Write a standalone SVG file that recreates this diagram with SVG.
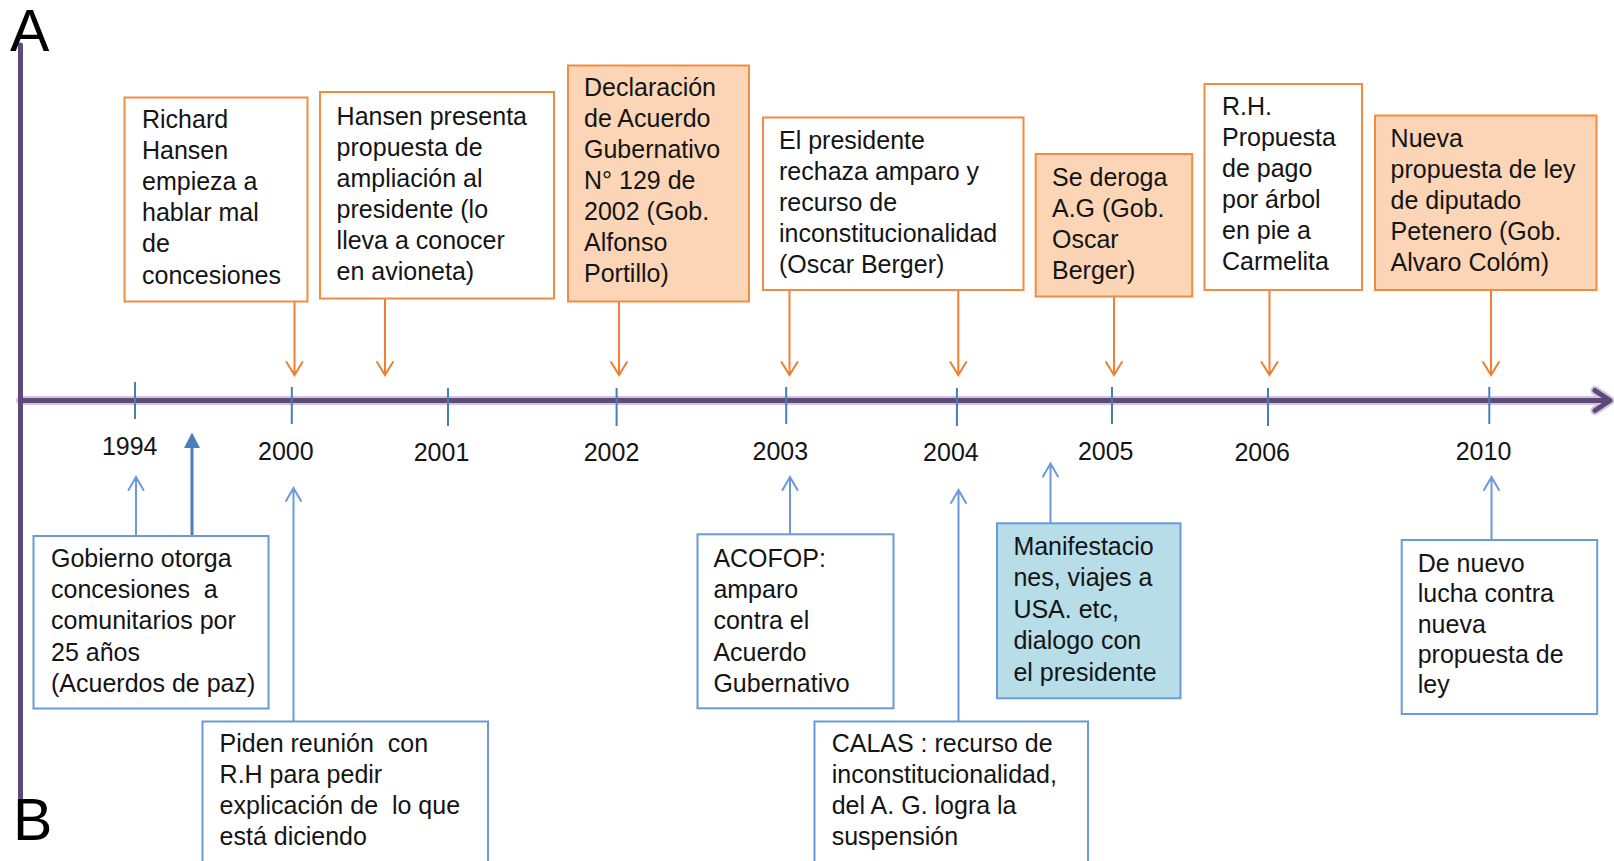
<svg xmlns="http://www.w3.org/2000/svg" width="1614" height="861" viewBox="0 0 1614 861">
<defs>
<style>
text{font-family:"Liberation Sans",Arial,sans-serif;font-size:25px;fill:#141414;white-space:pre}
.big{font-size:59px;fill:#000}
.yr{text-anchor:middle}
.ob{fill:#fff;stroke:#f28c3e;stroke-width:2}
.of{fill:#fbd5b5;stroke:#f28c3e;stroke-width:2}
.bb{fill:#fff;stroke:#6a9ada;stroke-width:2}
.bf{fill:#b7dde8;stroke:#6a9ada;stroke-width:2}
.oa{stroke:#ee7f33;stroke-width:2;fill:none;stroke-linecap:round}
.ba{stroke:#6a9ada;stroke-width:2;fill:none;stroke-linecap:round}
.tk{stroke:#4a7ebb;stroke-width:2}
.ax{stroke:#5f497a;stroke-width:5;fill:none;stroke-linecap:round;stroke-linejoin:round}
.axh{stroke:#cfc6dc;stroke-width:9;fill:none;stroke-linecap:round;stroke-linejoin:round}
</style>
</defs>

<g id="axes">
<path class="axh" d="M20.5,400.5 H1609 M1595,390.5 L1610,400.5 L1595,410.5"/>
<path class="ax" d="M20.5,45 V798 M20.5,400.5 H1609 M1595,390.5 L1610,400.5 L1595,410.5"/>
<text class="big" x="10" y="51">A</text>
<text class="big" x="13" y="840">B</text>
</g>

<g id="ticks">
<path class="tk" d="M135,382V419 M291.8,387V424 M448,388V426 M616.6,388V426 M786.2,387V424 M956.9,388V426 M1112,387V424 M1268,388V426 M1489.3,387V424"/>
<text class="yr" x="129.7" y="454.5">1994</text>
<text class="yr" x="285.8" y="459.5">2000</text>
<text class="yr" x="441.5" y="460.5">2001</text>
<text class="yr" x="611.5" y="460.5">2002</text>
<text class="yr" x="780.3" y="459.5">2003</text>
<text class="yr" x="950.9" y="460.5">2004</text>
<text class="yr" x="1105.7" y="459.5">2005</text>
<text class="yr" x="1262.2" y="460.5">2006</text>
<text class="yr" x="1483.5" y="459.5">2010</text>
</g>

<g id="connectors">
<path class="oa" d="M294.5,302V375 M286.5,362L294.5,375L302.5,362"/>
<path class="oa" d="M385,298.5V375 M377,362L385,375L393,362"/>
<path class="oa" d="M619,301.5V375 M611,362L619,375L627,362"/>
<path class="oa" d="M789.5,290V375 M781.5,362L789.5,375L797.5,362"/>
<path class="oa" d="M958.3,290V375 M950.3,362L958.3,375L966.3,362"/>
<path class="oa" d="M1114,296V375 M1106,362L1114,375L1122,362"/>
<path class="oa" d="M1269.5,290V375 M1261.5,362L1269.5,375L1277.5,362"/>
<path class="oa" d="M1491,290V375 M1483,362L1491,375L1499,362"/>
<path class="ba" d="M136,536V477 M128.5,490L136,477L143.5,490"/>
<path d="M192,536V446" stroke="#4a7ebb" stroke-width="3" fill="none"/>
<path d="M184,448L192,432.5L200,448Z" fill="#4a7ebb"/>
<path class="ba" d="M293.5,721V488 M286,501L293.5,488L301,501"/>
<path class="ba" d="M790,534V477 M782.5,490L790,477L797.5,490"/>
<path class="ba" d="M958.5,721V490 M951,503L958.5,490L966,503"/>
<path class="ba" d="M1050.5,523V463.5 M1043,476.5L1050.5,463.5L1058,476.5"/>
<path class="ba" d="M1491.5,540V477 M1484,490L1491.5,477L1499,490"/>
</g>

<g id="n-richard">
<rect class="ob" x="124.5" y="97.5" width="183" height="204"/>
<text>
<tspan x="142" y="127.5">Richard</tspan>
<tspan x="142" y="158.7">Hansen</tspan>
<tspan x="142" y="189.9">empieza a</tspan>
<tspan x="142" y="221.1">hablar mal</tspan>
<tspan x="142" y="252.3">de</tspan>
<tspan x="142" y="283.5">concesiones</tspan>
</text>
</g>

<g id="n-hansen">
<rect class="ob" x="320" y="92" width="234" height="206.5"/>
<text>
<tspan x="336.6" y="124.5">Hansen presenta</tspan>
<tspan x="336.6" y="155.5">propuesta de</tspan>
<tspan x="336.6" y="186.5">ampliación al</tspan>
<tspan x="336.6" y="217.5">presidente (lo</tspan>
<tspan x="336.6" y="248.5">lleva a conocer</tspan>
<tspan x="336.6" y="279.5">en avioneta)</tspan>
</text>
</g>

<g id="n-declaracion">
<rect class="of" x="568" y="65.5" width="181" height="236"/>
<text>
<tspan x="584" y="96">Declaración</tspan>
<tspan x="584" y="127">de Acuerdo</tspan>
<tspan x="584" y="158">Gubernativo</tspan>
<tspan x="584" y="189">N° 129 de</tspan>
<tspan x="584" y="220">2002 (Gob.</tspan>
<tspan x="584" y="251">Alfonso</tspan>
<tspan x="584" y="282">Portillo)</tspan>
</text>
</g>

<g id="n-presidente">
<rect class="ob" x="763" y="117.5" width="260.5" height="172.5"/>
<text>
<tspan x="779" y="149.3">El presidente</tspan>
<tspan x="779" y="180.3">rechaza amparo y</tspan>
<tspan x="779" y="211.3">recurso de</tspan>
<tspan x="779" y="242.3">inconstitucionalidad</tspan>
<tspan x="779" y="273.3">(Oscar Berger)</tspan>
</text>
</g>

<g id="n-deroga">
<rect class="of" x="1035.7" y="154" width="156.5" height="142.5"/>
<text>
<tspan x="1052" y="186">Se deroga</tspan>
<tspan x="1052" y="217">A.G (Gob.</tspan>
<tspan x="1052" y="248">Oscar</tspan>
<tspan x="1052" y="279">Berger)</tspan>
</text>
</g>

<g id="n-rh">
<rect class="ob" x="1204.5" y="84" width="157.5" height="206"/>
<text>
<tspan x="1222" y="115">R.H.</tspan>
<tspan x="1222" y="146">Propuesta</tspan>
<tspan x="1222" y="177">de pago</tspan>
<tspan x="1222" y="208">por árbol</tspan>
<tspan x="1222" y="239">en pie a</tspan>
<tspan x="1222" y="270">Carmelita</tspan>
</text>
</g>

<g id="n-nueva">
<rect class="of" x="1375" y="115.5" width="221.5" height="174.5"/>
<text>
<tspan x="1390.6" y="147">Nueva</tspan>
<tspan x="1390.6" y="178">propuesta de ley</tspan>
<tspan x="1390.6" y="209">de diputado</tspan>
<tspan x="1390.6" y="240">Petenero (Gob.</tspan>
<tspan x="1390.6" y="271">Alvaro Colóm)</tspan>
</text>
</g>

<g id="n-gobierno">
<rect class="bb" x="33.5" y="536" width="235" height="172.5"/>
<text>
<tspan x="51" y="566.7">Gobierno otorga</tspan>
<tspan x="51" y="598">concesiones  a</tspan>
<tspan x="51" y="629.2">comunitarios por</tspan>
<tspan x="51" y="660.5">25 años</tspan>
<tspan x="51" y="691.7">(Acuerdos de paz)</tspan>
</text>
</g>

<g id="n-piden">
<rect class="bb" x="202.5" y="721.5" width="285.5" height="160"/>
<text>
<tspan x="219.6" y="751.7">Piden reunión  con</tspan>
<tspan x="219.6" y="782.8">R.H para pedir</tspan>
<tspan x="219.6" y="813.9">explicación de  lo que</tspan>
<tspan x="219.6" y="845">está diciendo</tspan>
</text>
</g>

<g id="n-acofop">
<rect class="bb" x="697.5" y="534.3" width="196" height="174"/>
<text>
<tspan x="713.4" y="566.7">ACOFOP:</tspan>
<tspan x="713.4" y="598">amparo</tspan>
<tspan x="713.4" y="629.2">contra el</tspan>
<tspan x="713.4" y="660.5">Acuerdo</tspan>
<tspan x="713.4" y="691.7">Gubernativo</tspan>
</text>
</g>

<g id="n-calas">
<rect class="bb" x="814.5" y="721.5" width="273.5" height="160"/>
<text>
<tspan x="831.7" y="751.7">CALAS : recurso de</tspan>
<tspan x="831.7" y="782.8">inconstitucionalidad,</tspan>
<tspan x="831.7" y="813.9">del A. G. logra la</tspan>
<tspan x="831.7" y="845">suspensión</tspan>
</text>
</g>

<g id="n-manifestaciones">
<rect class="bf" x="997" y="523.3" width="183.5" height="175"/>
<text>
<tspan x="1013.4" y="555">Manifestacio</tspan>
<tspan x="1013.4" y="586.4">nes, viajes a</tspan>
<tspan x="1013.4" y="617.8">USA. etc,</tspan>
<tspan x="1013.4" y="649.2">dialogo con</tspan>
<tspan x="1013.4" y="680.6">el presidente</tspan>
</text>
</g>

<g id="n-denuevo">
<rect class="bb" x="1401.7" y="540" width="195.5" height="174"/>
<text>
<tspan x="1417.7" y="571.7">De nuevo</tspan>
<tspan x="1417.7" y="602.1">lucha contra</tspan>
<tspan x="1417.7" y="632.5">nueva</tspan>
<tspan x="1417.7" y="662.9">propuesta de</tspan>
<tspan x="1417.7" y="693.3">ley</tspan>
</text>
</g>
</svg>
